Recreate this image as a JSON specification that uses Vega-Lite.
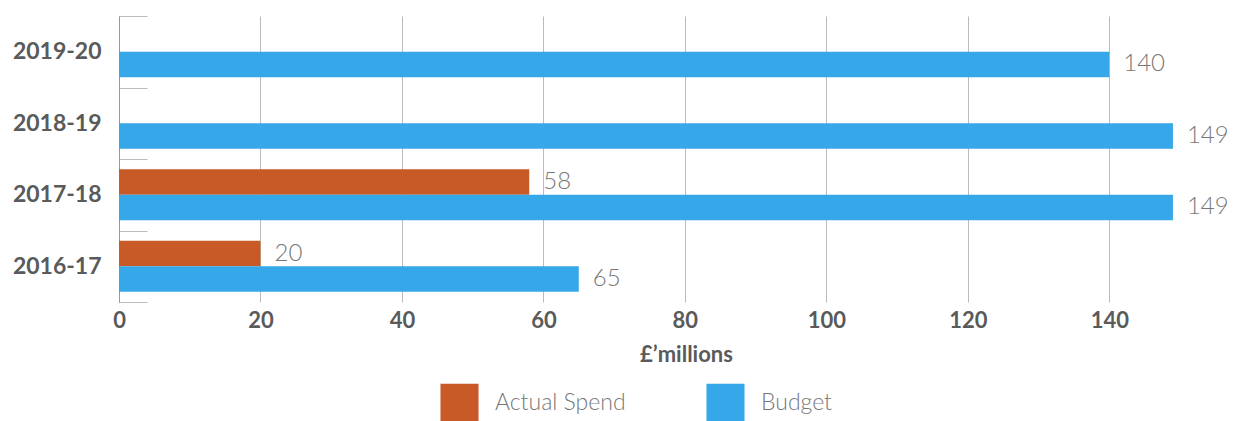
{
  "$schema": "https://vega.github.io/schema/vega-lite/v6.json",
  "autosize": "none",
  "width": 1061,
  "height": 286,
  "padding": {"left": 119, "top": 16, "right": 60, "bottom": 119},
  "background": "white",
  "config": {
    "view": {"stroke": null},
    "font": "Lato"
  },
  "data": {
    "values": [
      {"year": "2019-20", "series": "Budget", "value": 140},
      {"year": "2018-19", "series": "Budget", "value": 149},
      {"year": "2017-18", "series": "Actual Spend", "value": 58},
      {"year": "2017-18", "series": "Budget", "value": 149},
      {"year": "2016-17", "series": "Actual Spend", "value": 20},
      {"year": "2016-17", "series": "Budget", "value": 65}
    ]
  },
  "encoding": {
    "y": {
      "field": "year",
      "type": "nominal",
      "sort": ["2019-20", "2018-19", "2017-18", "2016-17"],
      "scale": {"paddingInner": 0, "paddingOuter": 0},
      "axis": {
        "title": null,
        "tickBand": "extent",
        "tickSize": -28,
        "tickColor": "#bbbbbb",
        "domainColor": "#999999",
        "labelFont": "Lato",
        "labelFontWeight": "bold",
        "labelFontSize": 23,
        "labelColor": "#5a5a5a",
        "labelPadding": 46
      }
    },
    "yOffset": {
      "field": "series",
      "type": "nominal",
      "sort": ["Actual Spend", "Budget"],
      "scale": {"domain": ["Actual Spend", "Budget"], "paddingInner": 0, "paddingOuter": 0.402}
    },
    "x": {
      "field": "value",
      "type": "quantitative",
      "scale": {"domain": [0, 150], "nice": false},
      "axis": {
        "values": [0, 20, 40, 60, 80, 100, 120, 140],
        "title": "£’millions",
        "titleFont": "Lato",
        "titleFontWeight": "bold",
        "titleFontSize": 22,
        "titleColor": "#5a5a5a",
        "titleX": 567,
        "titleY": 42,
        "domain": false,
        "ticks": false,
        "grid": true,
        "gridColor": "#bbbbbb",
        "labelFlush": false,
        "labelFont": "Lato",
        "labelFontWeight": "bold",
        "labelFontSize": 22,
        "labelColor": "#5a5a5a",
        "labelPadding": 8
      }
    }
  },
  "layer": [
    {
      "mark": {"type": "bar"},
      "encoding": {
        "color": {
          "field": "series",
          "type": "nominal",
          "scale": {"domain": ["Actual Spend", "Budget"], "range": ["#C75A27", "#36A7E8"]},
          "legend": {
            "title": null,
            "orient": "none",
            "direction": "horizontal",
            "legendX": 321,
            "legendY": 367,
            "symbolType": "square",
            "symbolSize": 1450,
            "symbolStrokeWidth": 0,
            "symbolOpacity": 1,
            "labelFont": "Lato",
            "labelFontWeight": 300,
            "labelFontSize": 23,
            "labelColor": "#777777",
            "labelOffset": 16,
            "columnPadding": 80
          }
        }
      }
    },
    {
      "mark": {
        "type": "text",
        "align": "left",
        "baseline": "middle",
        "dx": 14,
        "font": "Lato",
        "fontWeight": 300,
        "fontSize": 24,
        "color": "#777777"
      },
      "encoding": {
        "text": {"field": "value", "type": "quantitative"}
      }
    }
  ]
}
